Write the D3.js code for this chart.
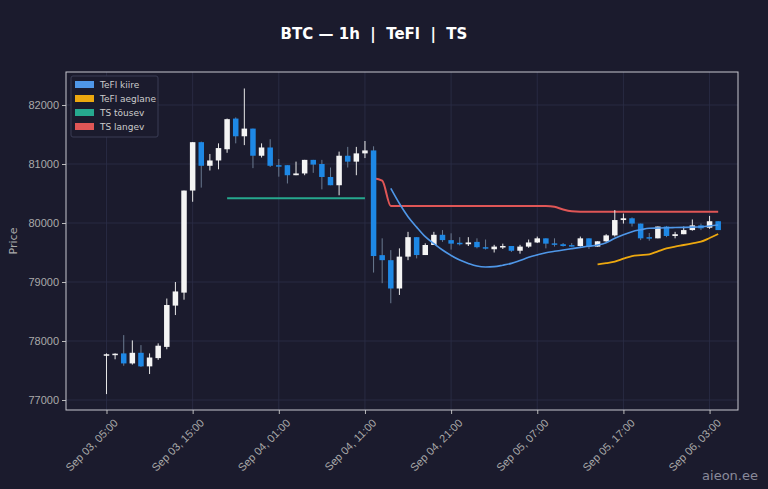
<!DOCTYPE html>
<html><head><meta charset="utf-8">
<script src="https://cdn.jsdelivr.net/npm/d3@7"></script>
<style>body{margin:0;background:#1b1b2d;}svg{display:block;font-family:"DejaVu Sans",sans-serif;}</style>
</head><body><svg id="c" width="768" height="489"></svg>
<script>
const startTime = "2025-09-03T05:00";
const opens  = [77760,77770,77790,77620,77800,77570,77710,77900,78600,78820,80550,81370,80970,81060,81250,81770,81470,81600,81140,81280,80980,80980,80810,80840,81070,81000,80780,80640,81140,81040,81180,81230,79455,79370,78890,79430,79760,79457,79627,79800,79710,79665,79640,79680,79590,79555,79600,79610,79530,79600,79670,79740,79655,79640,79625,79610,79740,79600,79690,79790,80050,80080,79990,79760,79740,79940,79780,79810,79880,79960,79920,80030];
const closes = [77775,77785,77620,77800,77570,77720,77920,78610,78840,80550,81370,80970,81060,81270,81760,81470,81600,81140,81280,80970,80970,80810,80840,81070,80990,80780,80640,81140,81040,81180,81230,79440,79370,78890,79430,79760,79457,79627,79800,79710,79650,79640,79670,79590,79570,79600,79610,79530,79600,79670,79740,79650,79630,79610,79610,79740,79600,79690,79790,80050,80080,79990,79740,79750,79940,79780,79810,79880,79960,79910,80030,79880];
const highs  = [77790,77790,78100,78010,77930,77790,77960,78720,79000,80550,81370,81380,81170,81350,81770,81790,82280,81600,81350,81420,81085,80980,81040,81070,81070,81070,80940,81210,81290,81290,81390,81300,79740,79540,79570,79850,79760,79655,79850,79880,79825,79760,79760,79740,79720,79630,79650,79610,79630,79720,79770,79740,79740,79660,79660,79770,79740,79690,79810,80220,80160,80095,79990,79830,79940,79950,79850,79940,80060,79990,80120,80030];
const lows   = [77100,77690,77580,77600,77560,77440,77680,77860,78440,78700,80360,80600,80890,80910,81190,81350,81320,80930,81110,80950,80785,80670,80810,80810,80850,80570,80640,80470,80940,80810,81100,79160,78980,78640,78780,79370,79400,79457,79627,79680,79550,79620,79610,79570,79550,79500,79560,79510,79480,79580,79660,79570,79600,79600,79600,79600,79560,79600,79680,79770,79990,79940,79710,79700,79740,79760,79740,79810,79870,79880,79900,79880];
const fastIdx = d3.range(33,72);
const fastVals = [80587,80330,80107,79930,79768,79650,79542,79450,79372,79315,79270,79255,79260,79285,79316,79365,79418,79460,79497,79520,79542,79565,79587,79607,79627,79666,79740,79800,79853,79885,79910,79915,79920,79923,79926,79930,79937,79950,79966];
const slowIdx = d3.range(57,72);
const slowVals = [79300,79320,79345,79395,79440,79455,79470,79520,79570,79600,79627,79655,79683,79745,79813];
const upIdx = [14,30];
const upVals = [80420,80420];
const downIdx = [31,32,33,51,52,53,54,55,71];
const downVals = [80757,80717,80290,80290,80275,80230,80200,80192,80192];
const tickLabels = ["Sep 03, 05:00","Sep 03, 15:00","Sep 04, 01:00","Sep 04, 11:00","Sep 04, 21:00","Sep 05, 07:00","Sep 05, 17:00","Sep 06, 03:00"];
const yTicks = [77000,78000,79000,80000,81000,82000];

const t0 = new Date(startTime);
const H = 3600e3;
const tAt = i => new Date(t0.getTime()+i*H);
const svg = d3.select("#c");
const L=66,R=738,T=72,B=410;
const x = d3.scaleTime().domain([tAt(-4.7), tAt(73.3)]).range([L,R]);
const y = d3.scaleLinear().domain([77000,82000]).range([400,105]);

svg.append("text").attr("x",374).attr("y",39).attr("text-anchor","middle").attr("fill","#fff")
  .attr("font-size",15).attr("font-weight","bold").text("BTC — 1h  |  TeFl  |  TS").attr("xml:space","preserve").style("white-space","pre");

const tickTimes = tickLabels.map((_,k)=>tAt(k*10));
// grid
svg.append("g").selectAll("line").data(tickTimes).join("line")
  .attr("x1",d=>x(d)).attr("x2",d=>x(d)).attr("y1",T).attr("y2",B).attr("stroke","#2c2f48").attr("stroke-width",0.8);
svg.append("g").selectAll("line").data(yTicks).join("line")
  .attr("x1",L).attr("x2",R).attr("y1",d=>y(d)).attr("y2",d=>y(d)).attr("stroke","#2c2f48").attr("stroke-width",0.8);

// axes
const xa = svg.append("g").attr("transform",`translate(0,${B})`)
  .call(d3.axisBottom(x).tickValues(tickTimes).tickFormat((d,k)=>tickLabels[k]).tickSize(4));
xa.select(".domain").remove();
xa.selectAll("line").attr("stroke","#bbb");
xa.selectAll("text").attr("fill","#aaa").attr("font-size",11).attr("text-anchor","end")
  .attr("transform","translate(4,6) rotate(-45)").attr("dy","0.35em").attr("dx","0");
const ya = svg.append("g").attr("transform",`translate(${L},0)`)
  .call(d3.axisLeft(y).tickValues(yTicks).tickFormat(d3.format("d")).tickSize(4));
ya.select(".domain").remove();
ya.selectAll("line").attr("stroke","#bbb");
ya.selectAll("text").attr("fill","#aaa").attr("font-size",11);
svg.append("text").attr("transform","translate(17,241) rotate(-90)").attr("text-anchor","middle")
  .attr("fill","#aaa").attr("font-size",11).text("Price");
svg.append("rect").attr("x",L).attr("y",T).attr("width",R-L).attr("height",B-T)
  .attr("fill","none").attr("stroke","#c8c8d0").attr("stroke-width",1);

// lines
const ln = (idx,vals,col,w)=>svg.append("path").datum(idx.map((d,k)=>[d,vals[k]]))
  .attr("d",d3.line().x(d=>x(tAt(d[0]))).y(d=>y(d[1])).curve(d3.curveMonotoneX))
  .attr("fill","none").attr("stroke",col).attr("stroke-width",w);
ln(upIdx,upVals,"#26a88e",2);
ln(downIdx,downVals,"#e05656",2);

// candles
const cw = 5.5;
const g = svg.append("g");
d3.range(opens.length).forEach(i=>{
  const cx = x(tAt(i)), up = closes[i]>=opens[i];
  const col = up ? "#f4f4f4" : "#1e88e5";
  g.append("line").attr("x1",cx).attr("x2",cx).attr("y1",y(highs[i])).attr("y2",y(lows[i]))
    .attr("stroke",up?"#e8e8e8":"#6a7a90").attr("stroke-width",1);
  const y1=y(Math.max(opens[i],closes[i])), y2=y(Math.min(opens[i],closes[i]));
  g.append("rect").attr("x",cx-cw/2).attr("y",y1).attr("width",cw).attr("height",Math.max(1.5,y2-y1)).attr("fill",col);
});
ln(fastIdx,fastVals,"#4f97e8",1.6);
ln(slowIdx,slowVals,"#eda80f",1.8);

// legend
const lg = svg.append("g").attr("transform","translate(71,76)");
lg.append("rect").attr("width",87).attr("height",61).attr("rx",2).attr("fill","#1b1b2d").attr("stroke","#3a3d55");
[["TeFl kiire","#4f97e8"],["TeFl aeglane","#eda80f"],["TS tõusev","#26a88e"],["TS langev","#e05656"]].forEach((d,k)=>{
  lg.append("rect").attr("x",4).attr("y",5+k*14).attr("width",19).attr("height",7).attr("fill",d[1]);
  lg.append("text").attr("x",29).attr("y",12+k*14).attr("fill","#ccc").attr("font-size",9).text(d[0]);
});
svg.append("text").attr("x",758).attr("y",480).attr("text-anchor","end").attr("fill","#8a8a9a").attr("font-size",13).text("aieon.ee");
</script></body></html>
